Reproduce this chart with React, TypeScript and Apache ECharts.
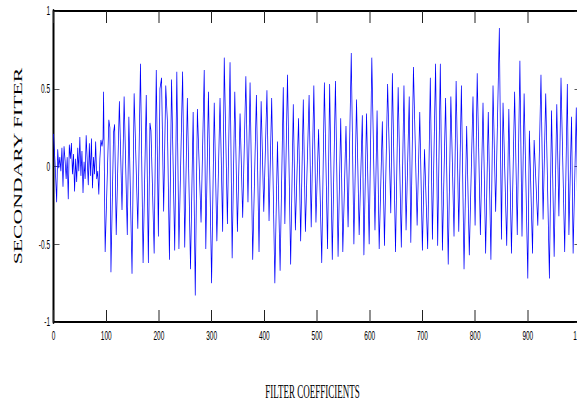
import React, { useEffect, useRef } from "react";
import * as echarts from "echarts";

// Sample index (filter coefficient number) of each local extreme
const sampleIndex = [
  0, 3, 6, 8, 10, 12, 14, 16, 18, 20, 22, 24, 26, 28, 30, 32, 34, 36, 38, 40,
  42, 44, 46, 48, 50, 52, 54, 56, 58, 60, 62, 64, 66, 68, 70, 72, 74, 76, 78, 80,
  82, 84, 86, 88, 90, 92, 94,
  95, 98, 105, 107, 109, 114, 116, 119, 125, 130, 134, 140, 143, 149, 153, 160, 165, 170,
  176, 180, 183, 185, 191, 195, 199, 202, 205, 209, 213, 216, 220, 224, 230, 234, 238, 245,
  249, 254, 260, 265, 269, 273, 280, 286, 289, 294, 300, 305, 310, 316, 321, 324, 330, 335,
  339, 344, 349, 354, 359, 365, 369, 373, 378, 385, 390, 394, 399, 405, 409, 414, 420, 425,
  430, 436, 439, 444, 450, 455, 459, 465, 469, 474, 478, 485, 489, 494, 498, 503,
  509, 514, 520, 524, 529, 535, 540, 545, 549, 555, 559, 565, 570, 575, 580, 586, 589, 594,
  599, 604, 610, 614, 618, 624, 628, 634, 640, 643, 649, 654, 660, 665, 669, 675,
  678, 683, 690, 695, 700, 704, 710, 715, 719, 725, 729, 734, 738, 744, 749, 754, 760, 764,
  769, 774, 779, 784, 789, 796, 800, 804, 810, 815, 820, 825, 830, 834, 839, 846,
  850, 853, 860, 864, 869, 875, 880, 885, 889, 893, 900, 903, 909, 912, 919, 925, 929, 934,
  941, 945, 950, 955, 959, 963, 970, 975, 978, 983, 986, 992, 996, 1000,
];

// Secondary filter value at each of those samples
const secondaryValue = [
  0.21, 0.02, -0.23, 0.11, -0.01, 0.06, -0.03, 0.12, -0.13, 0.13, 0.04, -0.08, 0.06, -0.21, 0.14, 0.05, 0.15, -0.05, 0.08, -0.16,
  0.05, -0.1, 0.12, -0.03, 0.19, -0.06, 0.1, -0.17, 0.03, -0.08, 0.2, 0.04, -0.12, 0.15, -0.06, 0.18, -0.14, 0.06, -0.05, 0.16,
  -0.08, -0.03, -0.18, 0.05, 0.17, 0.13, 0.18,
  0.48, -0.55, 0.3, 0.25, -0.68, 0.22, 0.27, -0.44, 0.42, -0.28, 0.45, -0.44, 0.32, -0.69, 0.47, -0.4, 0.66, -0.62,
  0.46, -0.62, 0.28, 0.23, -0.56, 0.62, -0.45, 0.5, 0.57, -0.29, 0.52, 0.3, -0.6, 0.56, -0.54, 0.61, -0.53, 0.61,
  -0.52, 0.44, -0.66, 0.35, -0.83, 0.37, -0.36, 0.62, -0.53, 0.48, -0.75, 0.41, -0.48, 0.44, -0.42, 0.7, -0.37, 0.67,
  -0.59, 0.48, -0.42, 0.34, -0.33, 0.58, -0.23, 0.54, -0.6, 0.46, -0.55, 0.42, -0.29, 0.49, -0.35, 0.44, -0.75, 0.16,
  -0.67, 0.51, -0.37, 0.59, -0.63, 0.4, -0.41, 0.31, -0.48, 0.43, -0.42, 0.46, -0.39, 0.52, -0.36, 0.24,
  -0.62, 0.54, -0.53, 0.53, -0.6, 0.55, -0.58, 0.31, -0.55, 0.26, -0.39, 0.73, -0.5, 0.43, -0.44, 0.33, -0.57, 0.34,
  -0.5, 0.7, -0.41, 0.36, -0.53, 0.29, -0.51, 0.53, -0.3, 0.6, -0.55, 0.51, -0.52, 0.52, -0.41, 0.45,
  -0.49, 0.64, -0.38, 0.35, -0.54, 0.11, -0.53, 0.57, -0.47, 0.66, -0.51, 0.66, -0.54, 0.44, -0.63, 0.45, -0.45, 0.55,
  -0.42, 0.52, -0.66, 0.26, -0.57, 0.45, -0.38, 0.6, -0.44, 0.41, -0.56, 0.35, -0.6, 0.52, -0.29, 0.89,
  -0.47, 0.41, -0.51, 0.37, -0.56, 0.48, -0.44, 0.68, -0.45, 0.47, -0.72, 0.23, -0.56, 0.17, -0.38, 0.59, -0.34, 0.47,
  -0.72, 0.36, -0.58, 0.4, -0.32, 0.57, -0.55, 0.53, -0.44, 0.32, -0.56, 0.38, -0.7, 0.05,
];

const xTicks = [0, 100, 200, 300, 400, 500, 600, 700, 800, 900, 1000];
const yTicks = [-1, -0.5, 0, 0.5, 1];
const xTitle = "FILTER COEFFICIENTS";
const yTitle = "SECONDARY FITER";

// The figure is drawn at double width and squeezed horizontally by half,
// like the reference (condensed tick labels).
const SQUEEZE = 0.5;
const W = 577 / SQUEEZE;
const H = 401;

export default function App() {
  const ref = useRef<HTMLDivElement>(null);

  useEffect(() => {
    if (!ref.current) return;
    const chart = echarts.init(ref.current, undefined, { renderer: "svg" });
    const data = sampleIndex.map((s, i) => [s, secondaryValue[i]]);
    const xMin = xTicks[0];
    const xMax = xTicks[xTicks.length - 1];
    const xStep = xTicks[1] - xTicks[0];
    const yMin = yTicks[0];
    const yMax = yTicks[yTicks.length - 1];
    const yStep = yTicks[1] - yTicks[0];
    const sansFont = "'Liberation Sans', Arial, Helvetica, sans-serif";
    const serifFont = "'Liberation Serif', 'Times New Roman', serif";
    const plain = (v: number) => String(v);

    const xCommon = {
      type: "value" as const,
      min: xMin,
      max: xMax,
      interval: xStep,
      splitLine: { show: false },
      axisLine: { show: true, onZero: false, lineStyle: { color: "#000", width: 2 } },
      axisTick: { show: true, inside: true, length: 12, lineStyle: { color: "#222", width: 2 } },
    };
    const yCommon = {
      type: "value" as const,
      min: yMin,
      max: yMax,
      interval: yStep,
      splitLine: { show: false },
      axisLine: { show: true, onZero: false, lineStyle: { color: "#000", width: 4 } },
      axisTick: { show: true, inside: true, length: 12, lineStyle: { color: "#222", width: 1 } },
    };

    chart.setOption({
      animation: false,
      backgroundColor: "#fff",
      grid: {
        left: 107,
        top: 11,
        width: 1054,
        height: 311,
        containLabel: false,
        outerBoundsMode: "none",
      },
      xAxis: [
        {
          ...xCommon,
          position: "bottom",
          axisLabel: {
            show: true,
            margin: 7,
            color: "#000",
            fontSize: 13,
            fontFamily: sansFont,
            formatter: plain,
            hideOverlap: false,
          },
          name: xTitle,
          nameLocation: "middle",
          nameGap: 61,
          nameTextStyle: { color: "#000", fontSize: 18, fontFamily: serifFont, padding: [0, 18, 0, 0] },
        },
        { ...xCommon, position: "top", axisLabel: { show: false } },
      ],
      yAxis: [
        {
          ...yCommon,
          position: "left",
          axisLabel: { show: true, margin: 7, color: "#000", fontSize: 13, fontFamily: sansFont, formatter: plain },
        },
        { ...yCommon, position: "right", axisLabel: { show: false } },
      ],
      graphic: [
        {
          type: "text",
          x: 36,
          y: 166,
          rotation: Math.PI / 2,
          scaleX: 1.45,
          scaleY: 1.55,
          style: {
            text: yTitle,
            fill: "#000",
            fontSize: 15,
            fontFamily: serifFont,
            align: "center",
            verticalAlign: "middle",
          },
        },
      ],
      series: [
        {
          type: "line",
          xAxisIndex: 0,
          yAxisIndex: 0,
          data,
          showSymbol: false,
          symbol: "none",
          lineStyle: { color: "#0000ff", width: 1.5 },
          clip: true,
        },
      ],
    });
    return () => chart.dispose();
  }, []);

  return (
    <div
      style={{
        position: "fixed",
        left: 0,
        top: 0,
        width: 577,
        height: H,
        overflow: "hidden",
        background: "#fff",
      }}
    >
      <div
        ref={ref}
        style={{
          width: W,
          height: H,
          transform: `scaleX(${SQUEEZE})`,
          transformOrigin: "0 0",
        }}
      />
    </div>
  );
}
